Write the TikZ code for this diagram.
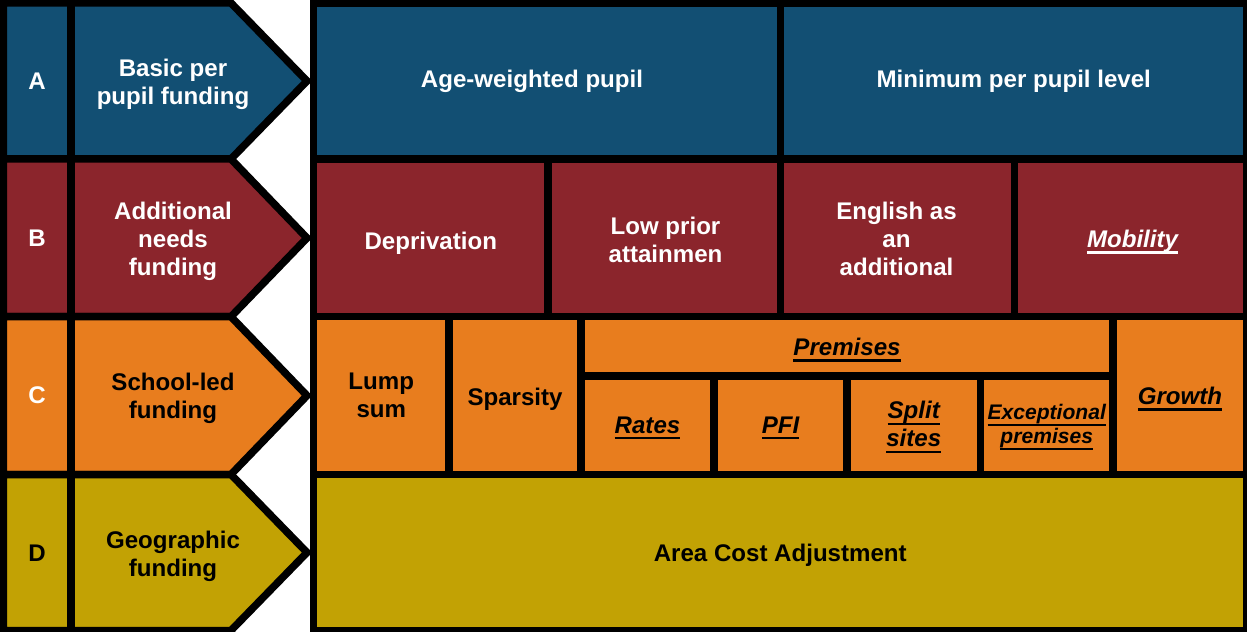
\documentclass[tikz,border=0pt]{standalone}
\usepackage{fontspec}
\setmainfont{Liberation Sans}
\usepackage{xcolor}
\definecolor{fundblue}{HTML}{124F73}
\definecolor{fundred}{HTML}{8B252C}
\definecolor{fundorange}{HTML}{E87D1E}
\definecolor{fundolive}{HTML}{C2A204}
% thick underline like the reference
\newcommand{\undl}[1]{\leavevmode\setbox0=\hbox{#1}\rlap{\rule[-3.6pt]{\wd0}{1.4pt}}\box0}

\begin{document}
\begin{tikzpicture}[x=0.2mm, y=-0.2mm,
  cell/.style={draw=black, line width=1.5mm, line join=miter},
  txtw/.style={text=white, font=\fontsize{13.7}{15.9}\selectfont\bfseries, align=center},
  txtk/.style={text=black, font=\fontsize{13.7}{15.9}\selectfont\bfseries, align=center},
  txtwi/.style={txtw, font=\fontsize{13.7}{15.9}\selectfont\bfseries\itshape},
  txtki/.style={txtk, font=\fontsize{13.7}{15.9}\selectfont\bfseries\itshape}]
\useasboundingbox (0,0) rectangle (1247,632);

% Left column: letter boxes and arrows
\draw[cell, fill=fundblue] (3.25,3) -- (231,3) -- (307,81) -- (231,159) -- (3.25,159) -- cycle;
\draw[cell, fill=fundred] (3.25,159) -- (231,159) -- (307,238) -- (231,316.7) -- (3.25,316.7) -- cycle;
\draw[cell, fill=fundorange] (3.25,316.7) -- (231,316.7) -- (307,395.6) -- (231,474.5) -- (3.25,474.5) -- cycle;
\draw[cell, fill=fundolive] (3.25,474.5) -- (231,474.5) -- (307,552.5) -- (231,630.5) -- (3.25,630.5) -- cycle;
\draw[cell] (71,3) -- (71,630.5);

\node[txtw] (la) at (37,81) {A};
\node[txtw] (lb) at (37,238) {B};
\node[txtw] (lc) at (37,395.6) {C};
\node[txtk] (ld) at (37,553.5) {D};
\node[txtw] (basic) at (173,84) {Basic per\\pupil funding};
\node[txtw] (addn) at (173,241) {Additional\\needs\\funding};
\node[txtk] (school) at (173,398.6) {School-led\\funding};
\node[txtk] (geo) at (173,556) {Geographic\\funding};

% Row A
\draw[cell, fill=fundblue] (313.5,3) rectangle (780.5,159);
\draw[cell, fill=fundblue] (780.5,3) rectangle (1247,159);
\node[txtw] (agew) at (532,81) {Age-weighted pupil};
\node[txtw] (minpp) at (1013.75,81) {Minimum per pupil level};

% Row B
\draw[cell, fill=fundred] (313.5,159) rectangle (548,316.7);
\draw[cell, fill=fundred] (548,159) rectangle (780.5,316.7);
\draw[cell, fill=fundred] (780.5,159) rectangle (1014.5,316.7);
\draw[cell, fill=fundred] (1014.5,159) rectangle (1247,316.7);
\node[txtw] (depr) at (430.75,243) {Deprivation};
\node[txtw] (lowp) at (665.5,240) {Low prior\\attainmen};
\node[txtw] (eal) at (896.5,239) {English as\\an\\additional};
\node[txtwi] (mobil) at (1132.5,242) {\undl{Mobility}};

% Row C
\draw[cell, fill=fundorange] (313.5,316.7) rectangle (449,474.5);
\draw[cell, fill=fundorange] (449,316.7) rectangle (581,474.5);
\draw[cell, fill=fundorange] (581,316.7) rectangle (1113,376);
\draw[cell, fill=fundorange] (581,376) rectangle (714,474.5);
\draw[cell, fill=fundorange] (714,376) rectangle (847,474.5);
\draw[cell, fill=fundorange] (847,376) rectangle (980.5,474.5);
\draw[cell, fill=fundorange] (980.5,376) rectangle (1113,474.5);
\draw[cell, fill=fundorange] (1113,316.7) rectangle (1247,474.5);
\node[txtk] (lump) at (381.25,395.6) {Lump\\sum};
\node[txtk] (spars) at (515,399) {Sparsity};
\node[txtki] (prem) at (847,350) {\undl{Premises}};
\node[txtki] (rates) at (647.5,428) {\undl{Rates}};
\node[txtki] (pfi) at (780.5,428) {\undl{PFI}};
\node[txtki] (split) at (913.75,427.25) {\undl{Split}\\\undl{sites}};
\node[txtki, font=\fontsize{12}{13.7}\selectfont\bfseries\itshape] (excp) at (1046.75,427.25) {\undl{Exceptional}\\\undl{premises}};
\node[txtki] (growth) at (1180,399) {\undl{Growth}};

% Row D
\draw[cell, fill=fundolive] (313.5,474.5) rectangle (1247,630.5);
\node[txtk] (aca) at (780.25,555) {Area Cost Adjustment};

\end{tikzpicture}
\end{document}
